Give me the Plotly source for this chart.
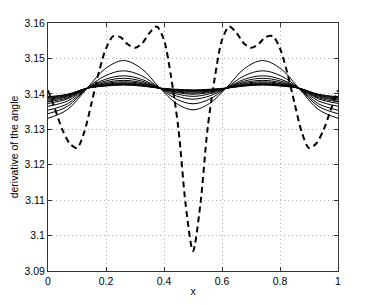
import plotly.graph_objects as go

# solid curves sampled at these x positions
x_solid = [0, 0.0675, 0.135, 0.1975, 0.26, 0.323, 0.386, 0.443, 0.5,
           0.557, 0.614, 0.677, 0.74, 0.8025, 0.865, 0.9325, 1.0]

c1 = [3.1331, 3.1356, 3.1416, 3.1471, 3.1494, 3.1471, 3.1416, 3.1373, 3.1355,
      3.1373, 3.1416, 3.1471, 3.1494, 3.1471, 3.1416, 3.1356, 3.1331]
c2 = [3.1344, 3.1365, 3.1416, 3.1451, 3.1465, 3.1451, 3.1416, 3.1385, 3.1372,
      3.1385, 3.1416, 3.1451, 3.1465, 3.1451, 3.1416, 3.1365, 3.1344]
c3 = [3.1354, 3.1372, 3.1416, 3.1441, 3.1451, 3.1441, 3.1416, 3.1394, 3.1385,
      3.1394, 3.1416, 3.1441, 3.1451, 3.1441, 3.1416, 3.1372, 3.1354]
c4 = [3.1365, 3.1380, 3.1416, 3.1436, 3.1444, 3.1436, 3.1416, 3.1400, 3.1393,
      3.1400, 3.1416, 3.1436, 3.1444, 3.1436, 3.1416, 3.1380, 3.1365]
c5 = [3.1373, 3.1386, 3.1416, 3.1432, 3.1438, 3.1432, 3.1416, 3.1404, 3.1399,
      3.1404, 3.1416, 3.1432, 3.1438, 3.1432, 3.1416, 3.1386, 3.1373]
c6 = [3.1378, 3.1389, 3.1416, 3.1429, 3.1434, 3.1429, 3.1416, 3.1406, 3.1402,
      3.1406, 3.1416, 3.1429, 3.1434, 3.1429, 3.1416, 3.1389, 3.1378]
c7 = [3.1382, 3.1392, 3.1416, 3.1427, 3.1431, 3.1427, 3.1416, 3.1408, 3.1405,
      3.1408, 3.1416, 3.1427, 3.1431, 3.1427, 3.1416, 3.1392, 3.1382]
c8 = [3.1385, 3.1394, 3.1416, 3.1425, 3.1429, 3.1425, 3.1416, 3.1410, 3.1407,
      3.1410, 3.1416, 3.1425, 3.1429, 3.1425, 3.1416, 3.1394, 3.1385]
c9 = [3.1388, 3.1396, 3.1416, 3.1424, 3.1427, 3.1424, 3.1416, 3.1411, 3.1409,
      3.1411, 3.1416, 3.1424, 3.1427, 3.1424, 3.1416, 3.1396, 3.1388]
c10 = [3.1390, 3.1398, 3.1416, 3.1423, 3.1426, 3.1423, 3.1416, 3.1412, 3.1410,
       3.1412, 3.1416, 3.1423, 3.1426, 3.1423, 3.1416, 3.1398, 3.1390]
c11 = [3.1392, 3.1399, 3.1416, 3.1422, 3.1425, 3.1422, 3.1416, 3.1413, 3.1411,
       3.1413, 3.1416, 3.1422, 3.1425, 3.1422, 3.1416, 3.1399, 3.1392]
solid_series = [c1, c2, c3, c4, c5, c6, c7, c8, c9, c10, c11]

# dashed curve
x_dash = [0, 0.025, 0.05, 0.075, 0.1, 0.125, 0.15, 0.175, 0.2, 0.225, 0.25,
          0.275, 0.3, 0.325, 0.35, 0.375, 0.4, 0.425, 0.45, 0.475, 0.5,
          0.525, 0.55, 0.575, 0.6, 0.625, 0.65, 0.675, 0.7, 0.725, 0.75,
          0.775, 0.8, 0.825, 0.85, 0.875, 0.9, 0.925, 0.95, 0.975, 1.0]
y_dash = [3.1410, 3.1355, 3.1298, 3.1260, 3.1247, 3.1292, 3.1374, 3.1460, 3.1528, 3.1563, 3.1560,
          3.1540, 3.1530, 3.1543, 3.1572, 3.1590, 3.1552, 3.1445, 3.1300, 3.1085, 3.0956,
          3.1085, 3.1300, 3.1445, 3.1552, 3.1590, 3.1572, 3.1543, 3.1530, 3.1540, 3.1560,
          3.1563, 3.1528, 3.1460, 3.1374, 3.1292, 3.1247, 3.1260, 3.1298, 3.1355, 3.1410]

x_ticks = [0, 0.2, 0.4, 0.6, 0.8, 1.0]
x_ticktext = ["0", "0.2", "0.4", "0.6", "0.8", "1"]
y_ticks = [3.09, 3.10, 3.11, 3.12, 3.13, 3.14, 3.15, 3.16]
y_ticktext = ["3.09", "3.1", "3.11", "3.12", "3.13", "3.14", "3.15", "3.16"]

fig = go.Figure()
for ys in solid_series:
    fig.add_trace(go.Scatter(x=x_solid, y=ys, mode="lines",
                             line=dict(color="black", width=1, shape="spline", smoothing=1.0),
                             showlegend=False, hoverinfo="skip"))
fig.add_trace(go.Scatter(x=x_dash, y=y_dash, mode="lines",
                         line=dict(color="black", width=2, dash="6px,4px", shape="spline", smoothing=0.8),
                         showlegend=False, hoverinfo="skip"))

axis_common = dict(
    showline=True, linecolor="#333333", linewidth=1, mirror="ticks",
    ticks="inside", ticklen=4, tickcolor="#333333",
    showgrid=True, gridcolor="#b0b0b0", griddash="1px,3px", gridwidth=1,
    zeroline=False, automargin=False,
    tickfont=dict(family="Liberation Sans, Arial, sans-serif", size=10.5, color="black"),
)

# page body has an 8px margin, so the figure is offset by (8, 8)
fig.update_layout(
    width=358, height=289,
    margin=dict(l=40, r=28, t=15, b=26),
    plot_bgcolor="white", paper_bgcolor="white",
    font=dict(family="Liberation Sans, Arial, sans-serif", size=10.5, color="black"),
    xaxis=dict(range=[0, 1], tickvals=x_ticks, ticktext=x_ticktext,
               title=dict(text="x", standoff=2, font=dict(size=10.5)), **axis_common),
    yaxis=dict(range=[3.09, 3.16], tickvals=y_ticks, ticktext=y_ticktext,
               title=dict(text="derivative of the angle", standoff=4, font=dict(size=10.5)), **axis_common),
)

fig.write_html("out.html")
